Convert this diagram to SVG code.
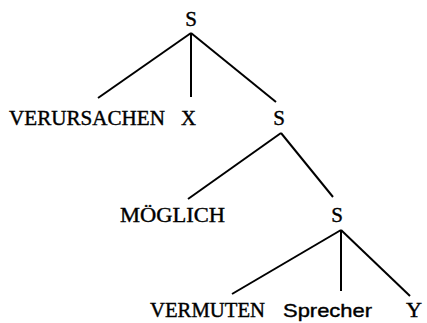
<svg xmlns="http://www.w3.org/2000/svg" width="427" height="323" viewBox="0 0 427 323">
<style>
text{font-family:"Liberation Serif","Times New Roman",serif;font-size:21px;fill:#000;stroke:#000;stroke-width:0.4}
.sans{font-family:"Liberation Sans",Arial,sans-serif;font-size:19px}
line{stroke:#000;stroke-width:2}
</style>
<rect width="427" height="323" fill="#fff"/>
<g id="connectors">
<line x1="191" y1="33" x2="98" y2="98"/>
<line x1="191" y1="33" x2="191" y2="97"/>
<line x1="191" y1="33" x2="276" y2="102"/>
<line x1="281" y1="133" x2="188" y2="199"/>
<line x1="281" y1="133" x2="333" y2="197"/>
<line x1="341" y1="230" x2="232" y2="294"/>
<line x1="341" y1="230" x2="341" y2="291"/>
<line x1="341" y1="230" x2="410" y2="296"/>
</g>
<g id="s1"><text x="191" y="26" text-anchor="middle">S</text></g>
<g id="verursachen"><text x="9" y="125" textLength="156" lengthAdjust="spacingAndGlyphs">VERURSACHEN</text></g>
<g id="x"><text x="181" y="125" textLength="15" lengthAdjust="spacingAndGlyphs">X</text></g>
<g id="s2"><text x="279" y="125" text-anchor="middle">S</text></g>
<g id="moeglich"><text x="120" y="222" textLength="105" lengthAdjust="spacingAndGlyphs">MÖGLICH</text></g>
<g id="s3"><text x="337" y="222" text-anchor="middle">S</text></g>
<g id="vermuten"><text x="150" y="317" textLength="115" lengthAdjust="spacingAndGlyphs">VERMUTEN</text></g>
<g id="sprecher"><text class="sans" x="283" y="317" textLength="89" lengthAdjust="spacingAndGlyphs">Sprecher</text></g>
<g id="y"><text x="406" y="317" textLength="16" lengthAdjust="spacingAndGlyphs">Y</text></g>
</svg>
